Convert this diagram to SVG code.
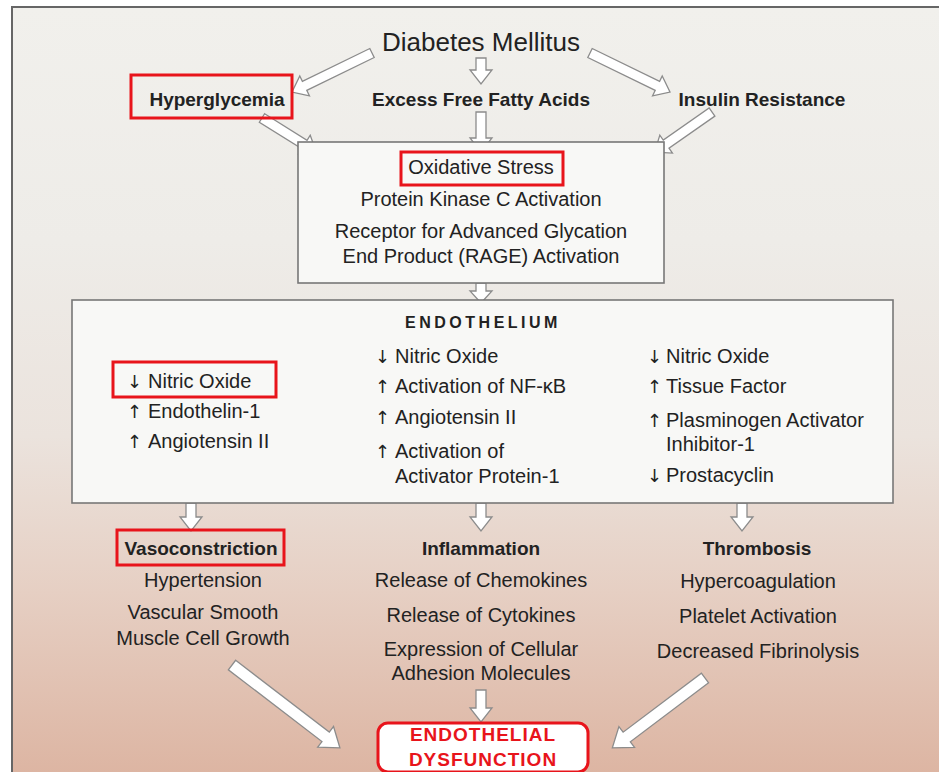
<svg xmlns="http://www.w3.org/2000/svg" width="939" height="772" viewBox="0 0 939 772">
<defs>
<linearGradient id="bg" x1="0" y1="0" x2="0" y2="1">
<stop offset="0" stop-color="#f1f0ec"/>
<stop offset="0.3" stop-color="#eeece8"/>
<stop offset="0.55" stop-color="#ebe3dd"/>
<stop offset="0.75" stop-color="#e6cfc3"/>
<stop offset="1" stop-color="#dcb3a0"/>
</linearGradient>
<style>
text{font-family:"Liberation Sans",Arial,Helvetica,sans-serif;fill:#222;}
.t{font-size:20px;}
.c{text-anchor:middle;}
.b{font-size:19px;font-weight:bold;}
.ar{font-family:"DejaVu Sans","Liberation Sans",sans-serif;font-size:18px;}
.box{fill:#f8f8f6;stroke:#777;stroke-width:1.6;}
.red{fill:none;stroke:#e8141b;stroke-width:3;}
.arw{fill:#fff;stroke:#8c8c8c;stroke-width:1.3;}
.ed{fill:#e8141b;font-size:19px;font-weight:bold;letter-spacing:1px;text-anchor:middle;}
</style>
</defs>
<rect x="0" y="0" width="939" height="772" fill="#fff"/>
<rect x="12" y="7" width="940" height="780" fill="url(#bg)" stroke="#666" stroke-width="2"/>

<g id="connectors">
<path class="arw" transform="translate(372,53) rotate(154)" d="M0,-5 H75 V-11 L89,0 L75,11 V5 H0 Z"/>
<path class="arw" transform="translate(481,58) rotate(90)" d="M0,-5 H12 V-11 L26,0 L12,11 V5 H0 Z"/>
<path class="arw" transform="translate(590,53) rotate(26)" d="M0,-5 H75 V-11 L89,0 L75,11 V5 H0 Z"/>
<path class="arw" transform="translate(262,118) rotate(32)" d="M0,-5 H50 V-11 L64,0 L50,11 V5 H0 Z"/>
<path class="arw" transform="translate(481,112) rotate(90)" d="M0,-5 H26 V-11 L40,0 L26,11 V5 H0 Z"/>
<path class="arw" transform="translate(712,112) rotate(145)" d="M0,-5 H56 V-11 L70,0 L56,11 V5 H0 Z"/>
<path class="arw" transform="translate(481,283) rotate(90)" d="M0,-5 H8 V-11 L20,0 L8,11 V5 H0 Z"/>
<path class="arw" transform="translate(191,503) rotate(90)" d="M0,-5 H14 V-11 L28,0 L14,11 V5 H0 Z"/>
<path class="arw" transform="translate(481,503) rotate(90)" d="M0,-5 H14 V-11 L28,0 L14,11 V5 H0 Z"/>
<path class="arw" transform="translate(742,503) rotate(90)" d="M0,-5 H14 V-11 L28,0 L14,11 V5 H0 Z"/>
<path class="arw" transform="translate(232,665) rotate(37.5)" d="M0,-6 H118 V-13 L136,0 L118,13 V6 H0 Z"/>
<path class="arw" transform="translate(481,690) rotate(90)" d="M0,-5 H18 V-11 L32,0 L18,11 V5 H0 Z"/>
<path class="arw" transform="translate(705,678) rotate(143)" d="M0,-6 H98 V-13 L116,0 L98,13 V6 H0 Z"/>
</g>

<g id="diabetes">
<text x="481" y="51" class="c" font-size="26">Diabetes Mellitus</text>
</g>
<g id="hyperglycemia">
<rect class="red" x="131" y="75" width="161" height="43"/>
<text x="217" y="106" class="b c">Hyperglycemia</text>
</g>
<g id="ffa">
<text x="481" y="106" class="b c">Excess Free Fatty Acids</text>
</g>
<g id="insulin">
<text x="762" y="106" class="b c">Insulin Resistance</text>
</g>

<g id="mechanisms">
<rect class="box" x="298" y="142" width="366" height="141"/>
<rect class="red" x="401" y="152" width="162" height="33"/>
<text x="481" y="174" class="t c">Oxidative Stress</text>
<text x="481" y="206" class="t c">Protein Kinase C Activation</text>
<text x="481" y="238" class="t c">Receptor for Advanced Glycation</text>
<text x="481" y="263" class="t c">End Product (RAGE) Activation</text>
</g>

<g id="endothelium">
<rect class="box" x="72" y="300" width="821" height="203"/>
<text x="483" y="328" class="c" font-size="16" font-weight="bold" letter-spacing="3.5">ENDOTHELIUM</text>
<rect class="red" x="113" y="362" width="163" height="35"/>
<text x="127" y="388" class="ar">↓</text><text x="148" y="388" class="t">Nitric Oxide</text>
<text x="127" y="418" class="ar">↑</text><text x="148" y="418" class="t">Endothelin-1</text>
<text x="127" y="448" class="ar">↑</text><text x="148" y="448" class="t">Angiotensin II</text>

<text x="375" y="363" class="ar">↓</text><text x="395" y="363" class="t">Nitric Oxide</text>
<text x="375" y="393" class="ar">↑</text><text x="395" y="393" class="t">Activation of NF-κB</text>
<text x="375" y="424" class="ar">↑</text><text x="395" y="424" class="t">Angiotensin II</text>
<text x="375" y="458" class="ar">↑</text><text x="395" y="458" class="t">Activation of</text>
<text x="395" y="483" class="t">Activator Protein-1</text>

<text x="647" y="363" class="ar">↓</text><text x="666" y="363" class="t">Nitric Oxide</text>
<text x="647" y="393" class="ar">↑</text><text x="666" y="393" class="t">Tissue Factor</text>
<text x="647" y="427" class="ar">↑</text><text x="666" y="427" class="t">Plasminogen Activator</text>
<text x="666" y="451" class="t">Inhibitor-1</text>
<text x="647" y="482" class="ar">↓</text><text x="666" y="482" class="t">Prostacyclin</text>
</g>

<g id="vasoconstriction">
<rect class="red" x="117" y="530" width="167" height="35"/>
<text x="201" y="555" class="b c">Vasoconstriction</text>
<text x="203" y="587" class="t c">Hypertension</text>
<text x="203" y="619" class="t c">Vascular Smooth</text>
<text x="203" y="645" class="t c">Muscle Cell Growth</text>
</g>

<g id="inflammation">
<text x="481" y="555" class="b c">Inflammation</text>
<text x="481" y="587" class="t c">Release of Chemokines</text>
<text x="481" y="622" class="t c">Release of Cytokines</text>
<text x="481" y="656" class="t c">Expression of Cellular</text>
<text x="481" y="680" class="t c">Adhesion Molecules</text>
</g>

<g id="thrombosis">
<text x="757" y="555" class="b c">Thrombosis</text>
<text x="758" y="588" class="t c">Hypercoagulation</text>
<text x="758" y="623" class="t c">Platelet Activation</text>
<text x="758" y="658" class="t c">Decreased Fibrinolysis</text>
</g>

<g id="dysfunction">
<rect x="378" y="723" width="210" height="49" rx="10" fill="#fff" stroke="#e8141b" stroke-width="3"/>
<text x="483" y="741" class="ed">ENDOTHELIAL</text>
<text x="483" y="766" class="ed">DYSFUNCTION</text>
</g>
</svg>
